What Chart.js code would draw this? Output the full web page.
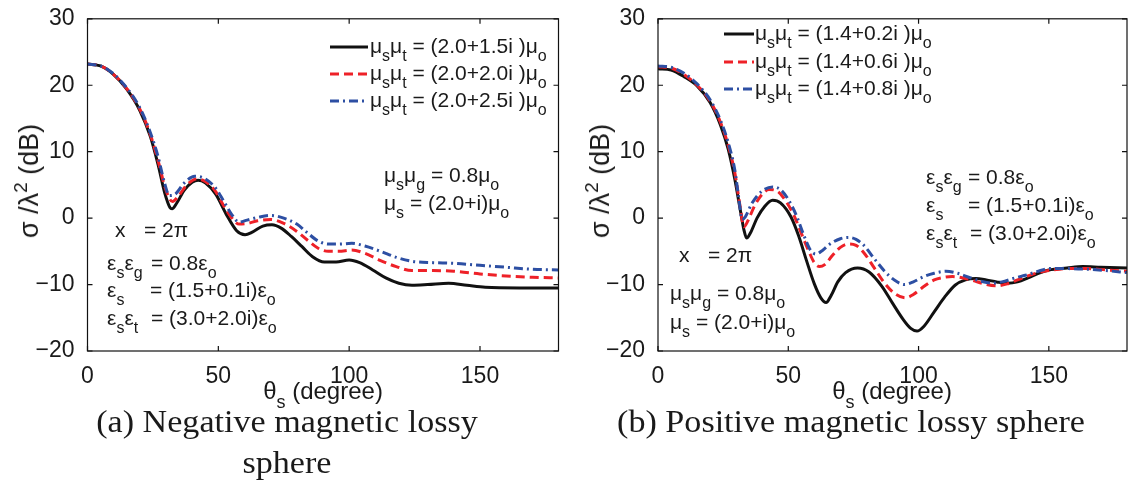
<!DOCTYPE html>
<html>
<head>
<meta charset="utf-8">
<script src="https://cdn.jsdelivr.net/npm/chart.js@4.4.1/dist/chart.umd.min.js"></script>
<style>
  html, body { margin: 0; padding: 0; background: #fff; }
  body { width: 1128px; height: 485px; position: relative; overflow: hidden; }
  canvas { position: absolute; top: 0; }
  .t { position: absolute; font: 21px 'Liberation Sans', Arial, sans-serif; color: #1a1a1a; white-space: pre; line-height: 20px; }
  .t sub { font-size: 16px; vertical-align: -8px; line-height: 0; }
  .t sup { font-size: 15px; vertical-align: 8px; line-height: 0; }
  .ytitle { font-size: 27px; transform: translate(-50%, -50%) rotate(-90deg); }
  .ytitle sup { font-size: 19px; vertical-align: 11px; }
  .xtitle { font-size: 24px; transform: translateX(-50%); }
  .xtitle sub { font-size: 18px; vertical-align: -9px; }
  .cap { position: absolute; font: 31px 'Liberation Serif', 'DejaVu Serif', serif; color: #1a1a1a; text-align: center; line-height: 41px; transform: translateX(-50%) scaleX(1.1); white-space: nowrap; }
  .key { position: absolute; }
</style>
</head>
<body>
<canvas id="chartA" width="564" height="400" style="left:0"></canvas>
<canvas id="chartB" width="564" height="400" style="left:564px"></canvas>
<script>
'use strict';

// ---- data (theta in degrees, RCS in dB) ----
const xTicks = [0, 50, 100, 150];
const yTicks = [-20, -10, 0, 10, 20, 30];

// (a) negative magnetic lossy sphere
const aBlackX = [0, 5, 10, 15, 20, 24, 27, 29.5, 31.5, 32.3, 34, 37, 40, 42.3, 45, 49, 53, 57, 60.2, 63, 67, 70.5, 74, 78, 82, 86, 90.5, 95, 100, 104, 109, 114, 119, 124, 130, 138, 145, 152, 165, 180];
const aBlackY = [23.2, 22.9, 21.6, 19.4, 16.2, 12.3, 8.0, 3.8, 1.6, 1.4, 2.2, 4.2, 5.4, 5.7, 5.3, 3.6, 0.6, -1.9, -2.5, -2.1, -1.2, -1.0, -1.5, -2.8, -4.3, -5.8, -6.6, -6.6, -6.3, -6.7, -7.8, -9.0, -9.8, -10.1, -10.0, -9.8, -10.1, -10.4, -10.5, -10.5];
const aRedX = [0, 5, 10, 15, 20, 24, 27, 29.5, 31.5, 32.5, 34.5, 38, 41.6, 45, 49, 52, 55, 58, 61, 65, 70, 75, 80, 84, 88, 92, 96, 101, 106, 112, 118, 124, 132, 140, 150, 160, 170, 180];
const aRedY = [23.2, 22.9, 21.6, 19.5, 16.4, 12.6, 8.6, 4.8, 2.8, 2.5, 3.2, 5.0, 5.9, 5.5, 4.0, 1.9, 0.1, -0.9, -0.8, -0.4, -0.2, -0.8, -2.0, -3.3, -4.5, -5.0, -5.0, -4.8, -5.3, -6.4, -7.3, -7.9, -7.9, -8.0, -8.4, -8.7, -8.9, -9.0];
const aBlueX = [0, 5, 10, 15, 20, 24, 27, 29.3, 31.3, 33.5, 37, 41, 45, 49, 52, 55, 58, 61, 65, 70, 75, 80, 84, 88, 92, 96, 101, 106, 112, 118, 124, 132, 140, 150, 160, 170, 180];
const aBlueY = [23.2, 22.9, 21.7, 19.6, 16.6, 12.9, 9.2, 5.5, 3.4, 3.6, 5.3, 6.3, 5.9, 4.5, 2.6, 0.6, -0.6, -0.3, 0.1, 0.4, 0.0, -0.9, -2.2, -3.4, -3.9, -3.9, -3.8, -4.2, -5.0, -5.9, -6.5, -6.7, -6.8, -7.1, -7.4, -7.7, -7.8];

// (b) positive magnetic lossy sphere
const bBlackX = [0, 5, 10, 15, 20, 24, 27, 29.5, 31.5, 33, 34, 35.5, 38, 41, 44, 47, 51, 54, 57, 60, 62.5, 64.5, 66.5, 69, 72, 76.6, 81, 86, 90, 94, 97, 99.4, 102, 106, 110, 114, 118, 122, 126, 130, 134, 138, 142, 146, 150, 157, 163, 170, 180];
const bBlackY = [22.5, 22.3, 21.3, 19.9, 17.4, 14.0, 10.3, 5.8, 1.4, -1.8, -3.0, -2.2, 0.0, 1.8, 2.7, 2.3, 0.2, -2.7, -6.4, -9.9, -12.0, -12.7, -11.6, -9.6, -8.2, -7.5, -8.1, -10.3, -12.8, -15.2, -16.6, -17.0, -16.3, -14.1, -11.9, -10.1, -9.3, -9.1, -9.3, -9.6, -9.8, -9.6, -9.0, -8.3, -7.8, -7.5, -7.3, -7.4, -7.5];
const bRedX = [0, 5, 10, 15, 20, 24, 27, 29.5, 31.5, 33, 34.5, 37, 40, 42.6, 46, 49, 52.3, 55, 58, 60, 62, 64, 67, 70, 73, 76, 79, 83, 87, 91, 95, 98, 102, 106, 110, 113, 117, 121, 125, 130, 134, 138, 142, 146, 150, 157, 165, 172, 180];
const bRedY = [22.8, 22.6, 21.6, 20.0, 17.6, 14.4, 10.9, 6.8, 1.8, -1.3, -0.4, 1.8, 3.6, 4.3, 4.0, 2.6, 0.3, -2.3, -5.1, -6.7, -7.3, -7.0, -5.6, -4.4, -3.9, -4.1, -5.2, -7.5, -9.8, -11.4, -12.0, -11.5, -10.3, -9.3, -8.9, -8.8, -9.0, -9.4, -9.9, -10.2, -9.9, -9.3, -8.7, -8.2, -7.9, -7.6, -7.6, -7.8, -8.0];
const bBlueX = [0, 5, 10, 15, 20, 24, 27, 29.5, 31, 32.3, 33.5, 36, 40, 44, 47, 50, 53, 56, 58.5, 60.6, 63, 66, 70, 73, 76, 79, 83, 87, 91, 94.6, 98, 102, 106, 110.5, 115, 120, 124, 128.5, 132, 137, 141, 146, 150, 157, 165, 172, 180];
const bBlueY = [22.9, 22.7, 21.8, 20.2, 17.8, 14.7, 11.3, 7.2, 3.0, -0.2, 0.2, 2.2, 4.1, 4.7, 4.3, 2.8, 0.5, -2.6, -4.8, -5.4, -4.9, -3.9, -3.1, -2.9, -3.2, -4.1, -6.1, -8.0, -9.4, -10.0, -9.6, -8.8, -8.3, -8.0, -8.3, -9.0, -9.5, -9.8, -9.6, -9.0, -8.6, -8.0, -7.6, -7.6, -7.7, -7.9, -8.2];

const legendA = ['(2.0+1.5i )', '(2.0+2.0i )', '(2.0+2.5i )'];
const legendB = ['(1.4+0.2i )', '(1.4+0.6i )', '(1.4+0.8i )'];

const BLACK = '#111111', RED = '#ee2128', BLUE = '#2d4fa3';
const styles = [
  { color: BLACK, dash: [] },
  { color: RED, dash: [9, 5] },
  { color: BLUE, dash: [9, 4, 2, 4] }
];

const pts = (xs, ys) => xs.map((x, i) => ({ x, y: ys[i] }));
const minus = v => String(v).replace('-', '\u2212');

// box around the plot + inward ticks on all four sides
const framePlugin = {
  id: 'frame',
  afterDatasetsDraw(chart){
    const { ctx, chartArea: a, scales: { x, y } } = chart;
    ctx.save();
    ctx.strokeStyle = '#111'; ctx.lineWidth = 1.2; ctx.setLineDash([]);
    ctx.strokeRect(a.left, a.top, a.right - a.left, a.bottom - a.top);
    ctx.beginPath();
    xTicks.forEach(v => {
      const px = x.getPixelForValue(v);
      ctx.moveTo(px, a.bottom); ctx.lineTo(px, a.bottom - 5);
      ctx.moveTo(px, a.top); ctx.lineTo(px, a.top + 5);
    });
    yTicks.forEach(v => {
      const py = y.getPixelForValue(v);
      ctx.moveTo(a.left, py); ctx.lineTo(a.left + 5, py);
      ctx.moveTo(a.right, py); ctx.lineTo(a.right - 5, py);
    });
    ctx.stroke();
    ctx.restore();
  }
};

function makeChart(id, series, yWidth, pad){
  const tickFont = { family: "'Liberation Sans', Arial, sans-serif", size: 23 };
  return new Chart(document.getElementById(id), {
    type: 'line',
    data: { datasets: series.map((s, i) => ({
      data: pts(s[0], s[1]),
      borderColor: styles[i].color, borderDash: styles[i].dash, borderWidth: 3,
      pointRadius: 0, fill: false, cubicInterpolationMode: 'monotone', order: 2 - i
    })) },
    options: {
      responsive: false, animation: false, events: [],
      layout: { padding: pad },
      plugins: { legend: { display: false }, tooltip: { enabled: false } },
      scales: {
        x: { type: 'linear', min: 0, max: 180,
          afterBuildTicks: s => { s.ticks = xTicks.map(v => ({ value: v })); },
          afterFit: s => { s.height = 49; },
          grid: { display: false }, border: { display: false },
          ticks: { color: '#1a1a1a', font: tickFont, padding: 4, maxRotation: 0, callback: minus } },
        y: { type: 'linear', min: -20, max: 30,
          afterBuildTicks: s => { s.ticks = yTicks.map(v => ({ value: v })); },
          afterFit: s => { s.width = yWidth; },
          grid: { display: false }, border: { display: false },
          ticks: { color: '#1a1a1a', font: tickFont, padding: 5, callback: minus } }
      }
    },
    plugins: [framePlugin]
  });
}

makeChart('chartA', [[aBlackX, aBlackY], [aRedX, aRedY], [aBlueX, aBlueY]], 87.5, { top: 10.7, right: 5.5, left: 0, bottom: 0 });
makeChart('chartB', [[bBlackX, bBlackY], [bRedX, bRedY], [bBlueX, bBlueY]], 94, { top: 11.5, right: 1, left: 0, bottom: 0 });

// ---- text overlays ----
function text(x, yc, html, cls){
  const d = document.createElement('div');
  d.className = 't' + (cls ? ' ' + cls : '');
  d.innerHTML = html;
  d.style.left = x + 'px';
  d.style.top = (yc - 10) + 'px';
  document.body.appendChild(d);
  return d;
}
function key(x, yc, len, st){
  const ns = 'http://www.w3.org/2000/svg';
  const svg = document.createElementNS(ns, 'svg');
  svg.setAttribute('width', len); svg.setAttribute('height', 6);
  svg.setAttribute('class', 'key');
  svg.style.left = x + 'px'; svg.style.top = (yc - 3) + 'px';
  const l = document.createElementNS(ns, 'line');
  l.setAttribute('x1', 0); l.setAttribute('x2', len); l.setAttribute('y1', 3); l.setAttribute('y2', 3);
  l.setAttribute('stroke', st.color); l.setAttribute('stroke-width', 3);
  if (st.dash.length) l.setAttribute('stroke-dasharray', st.dash.join(' '));
  svg.appendChild(l);
  document.body.appendChild(svg);
}

const MU_T = 'μ<sub>s</sub>μ<sub>t</sub> = ';
const MU_O = 'μ<sub>o</sub>';
const EPS_O = 'ε<sub>o</sub>';

// legend (a)
[46, 73, 100].forEach((yc, i) => {
  key(330, yc + 1, 38, styles[i]);
  text(370, yc, MU_T + legendA[i] + MU_O);
});
// legend (b)
[33, 61, 88].forEach((yc, i) => {
  key(724, yc + 1, 30, styles[i]);
  text(755, yc, MU_T + legendB[i] + MU_O);
});

// annotations (a)
text(384, 175, 'μ<sub>s</sub>μ<sub>g</sub> = 0.8' + MU_O);
text(384, 203, 'μ<sub>s</sub> = (2.0+i)' + MU_O);
text(115, 230, 'x'); text(144, 230, '= 2π');
text(107, 263, 'ε<sub>s</sub>ε<sub>g</sub>'); text(151, 263, '= 0.8' + EPS_O);
text(107, 290, 'ε<sub>s</sub>'); text(150, 290, '= (1.5+0.1i)' + EPS_O);
text(107, 318, 'ε<sub>s</sub>ε<sub>t</sub>'); text(151, 318, '= (3.0+2.0i)' + EPS_O);

// annotations (b)
text(926, 177, 'ε<sub>s</sub>ε<sub>g</sub>'); text(968, 177, '= 0.8' + EPS_O);
text(926, 205, 'ε<sub>s</sub>'); text(968, 205, '= (1.5+0.1i)' + EPS_O);
text(926, 233, 'ε<sub>s</sub>ε<sub>t</sub>'); text(970, 233, '= (3.0+2.0i)' + EPS_O);
text(679, 255, 'x'); text(708, 255, '= 2π');
text(670, 293, 'μ<sub>s</sub>μ<sub>g</sub> = 0.8' + MU_O);
text(670, 322, 'μ<sub>s</sub> = (2.0+i)' + MU_O);

// axis titles
text(29, 181, 'σ /λ<sup>2</sup> (dB)', 'ytitle').style.top = '181px';
text(600, 181, 'σ /λ<sup>2</sup> (dB)', 'ytitle').style.top = '181px';
text(323, 391, 'θ<sub>s</sub> (degree)', 'xtitle');
text(892, 391, 'θ<sub>s</sub> (degree)', 'xtitle');

// captions
function caption(x, y, html){
  const d = document.createElement('div');
  d.className = 'cap'; d.innerHTML = html;
  d.style.left = x + 'px'; d.style.top = y + 'px';
  document.body.appendChild(d);
}
caption(287, 401, '(a) Negative magnetic lossy<br>sphere');
caption(851, 401, '(b) Positive magnetic lossy sphere');
</script>
</body>
</html>
